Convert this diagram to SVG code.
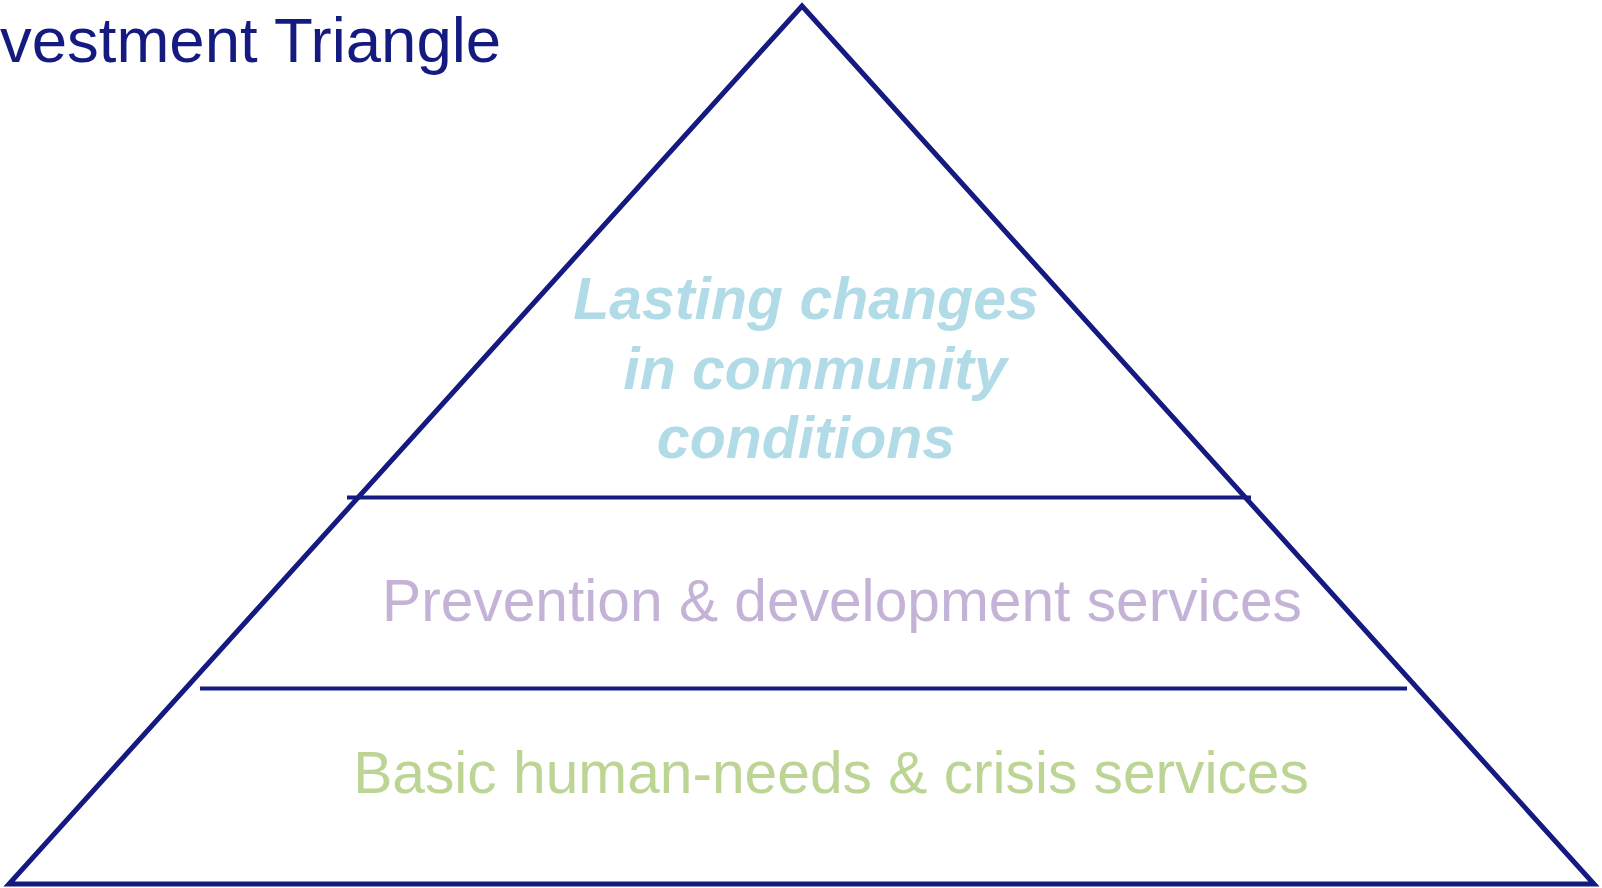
<svg xmlns="http://www.w3.org/2000/svg" width="1602" height="888" viewBox="0 0 1602 888">
<style>
.edge{fill:none;stroke:#141a80;stroke-width:5;stroke-linejoin:miter}
.div{stroke:#141a80;stroke-width:4;fill:none}
text{font-family:"Liberation Sans",Arial,sans-serif}
.title{font-size:63.5px;fill:#141a80}
.top{font-size:59px;font-weight:bold;font-style:italic;fill:#b1dbe6;text-anchor:middle}
.mid{font-size:58.7px;fill:#c4b3d7;text-anchor:middle}
.bot{font-size:58.7px;fill:#bdd594;text-anchor:middle}
</style>
<rect width="1602" height="888" fill="#ffffff"/>
<g id="title"><text class="title" x="0" y="62">vestment Triangle</text></g>
<g id="triangle"><polygon class="edge" points="802,6 1594,884 9,884"/></g>
<g id="connectors">
<line class="div" x1="347" y1="497.5" x2="1251" y2="497.5"/>
<line class="div" x1="200" y1="688.5" x2="1407" y2="688.5"/>
</g>
<g id="tier-top">
<text class="top" x="806" y="319">Lasting changes</text>
<text class="top" x="815" y="389">in community</text>
<text class="top" x="806" y="458">conditions</text>
</g>
<g id="tier-mid"><text class="mid" x="842" y="621">Prevention &amp; development services</text></g>
<g id="tier-bot"><text class="bot" x="831" y="793">Basic human-needs &amp; crisis services</text></g>
</svg>
